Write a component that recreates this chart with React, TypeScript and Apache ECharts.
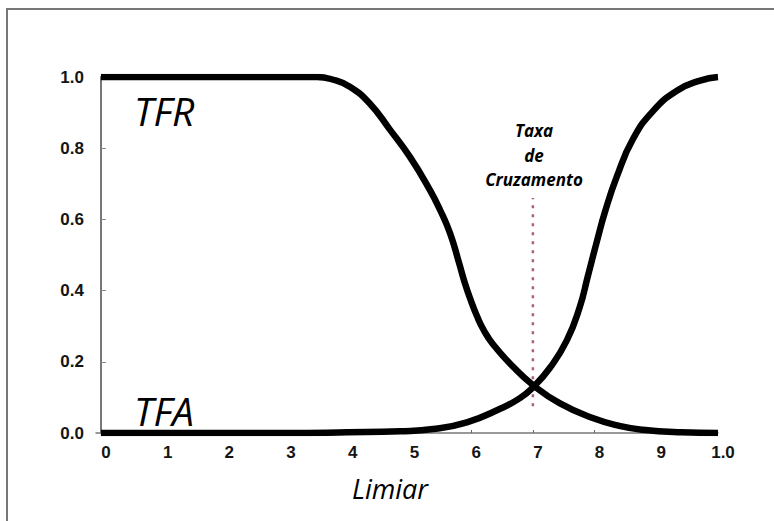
import React, { useEffect, useRef } from "react";
import * as echarts from "echarts";

const xTicks = [0, 1, 2, 3, 4, 5, 6, 7, 8, 9, 10];
const yTicks = [0, 0.2, 0.4, 0.6, 0.8, 1.0];

const tfrX = [0, 1, 2, 3, 3.5, 3.75, 4.04, 4.36, 4.68, 5.01, 5.33, 5.5, 5.66, 5.8, 5.9, 6.0, 6.09, 6.2, 6.35, 6.68, 7.0, 7.44, 7.97, 8.4, 8.78, 9.4, 10];
const tfrY = [1, 1, 1, 1, 1, 0.993, 0.972, 0.925, 0.853, 0.775, 0.683, 0.625, 0.56, 0.48, 0.42, 0.37, 0.33, 0.29, 0.25, 0.186, 0.135, 0.083, 0.042, 0.02, 0.009, 0.002, 0];

const tfaX = [0, 1, 2, 3, 4, 4.85, 5.38, 5.93, 6.47, 6.79, 7.0, 7.28, 7.55, 7.76, 7.89, 8.04, 8.17, 8.36, 8.62, 8.95, 9.34, 9.71, 10];
const tfaY = [0, 0, 0, 0, 0.002, 0.005, 0.011, 0.03, 0.068, 0.098, 0.128, 0.184, 0.26, 0.354, 0.44, 0.54, 0.622, 0.72, 0.825, 0.905, 0.962, 0.99, 1.0];

const crossX = 7;
const crossLineY = [0.075, 0.66];

export default function App() {
  const ref = useRef<HTMLDivElement>(null);
  useEffect(() => {
    document.body.style.margin = "0";
    const chart = echarts.init(ref.current!, null, { renderer: "svg" });
    const labelFont = { fontFamily: "Liberation Sans, Arial", fontWeight: "bold" as const, fontSize: 17, color: "#151515" };
    chart.setOption({
      animation: false,
      backgroundColor: "#ffffff",
      grid: { left: 96, right: 56, top: 77, bottom: 88 },
      xAxis: {
        type: "value",
        min: -0.08,
        max: 10,
        axisLine: { show: true, onZero: false, lineStyle: { color: "#777", width: 1.5 } },
        axisTick: { show: true, inside: true, length: 3, customValues: xTicks.slice(1, 10), lineStyle: { color: "#666" } },
        axisLabel: {
          customValues: xTicks,
          ...labelFont,
          margin: 11,
          padding: [0, 0, 0, 10],
          formatter: (v: number) => (v === 10 ? "1.0" : String(v)),
        },
        splitLine: { show: false },
      },
      yAxis: {
        type: "value",
        min: 0,
        max: 1,
        interval: 0.2,
        axisLine: { show: true, lineStyle: { color: "#777", width: 2 } },
        axisTick: { show: true, inside: true, length: 5, customValues: yTicks.slice(1, 5), lineStyle: { color: "#888" } },
        axisLabel: {
          customValues: yTicks,
          ...labelFont,
          margin: 12,
          formatter: (v: number) => v.toFixed(1),
        },
        splitLine: { show: false },
      },
      series: [
        {
          type: "line",
          name: "Cruzamento",
          data: crossLineY.map((y) => [crossX, y]),
          showSymbol: false,
          lineStyle: { color: "#a0406e", width: 2.5, type: [3, 6], opacity: 0.85 },
          z: 1,
        },
        {
          type: "line",
          name: "TFR",
          data: tfrX.map((x, i) => [x, tfrY[i]]),
          smooth: 0.5,
          showSymbol: false,
          lineStyle: { color: "#000", width: 6.5 },
          z: 3,
        },
        {
          type: "line",
          name: "TFA",
          data: tfaX.map((x, i) => [x, tfaY[i]]),
          smooth: 0.5,
          showSymbol: false,
          lineStyle: { color: "#000", width: 6.5 },
          z: 3,
        },
      ],
      graphic: [
        {
          type: "rect",
          shape: { x: 7, y: 9, width: 900, height: 700 },
          style: { fill: "none", stroke: "#777", lineWidth: 2 },
          silent: true,
          z: -1,
        },
        {
          type: "text",
          x: 134,
          y: 110,
          style: { text: "TFR", font: "italic 39px 'Open Sans'", fill: "#000", verticalAlign: "middle" },
        },
        {
          type: "text",
          x: 134,
          y: 410,
          style: { text: "TFA", font: "italic 39px 'Open Sans'", fill: "#000", verticalAlign: "middle" },
        },
        {
          type: "text",
          x: 390,
          y: 488,
          style: { text: "Limiar", font: "italic 27px 'Open Sans'", fill: "#000", align: "center", verticalAlign: "middle" },
        },
        {
          type: "text",
          x: 534,
          y: 155,
          style: {
            text: "Taxa\nde\nCruzamento",
            font: "italic bold 17px 'Open Sans'",
            lineHeight: 24.5,
            fill: "#000",
            align: "center",
            verticalAlign: "middle",
          },
        },
      ],
    });
    return () => chart.dispose();
  }, []);
  return <div ref={ref} style={{ width: 774, height: 521 }} />;
}
